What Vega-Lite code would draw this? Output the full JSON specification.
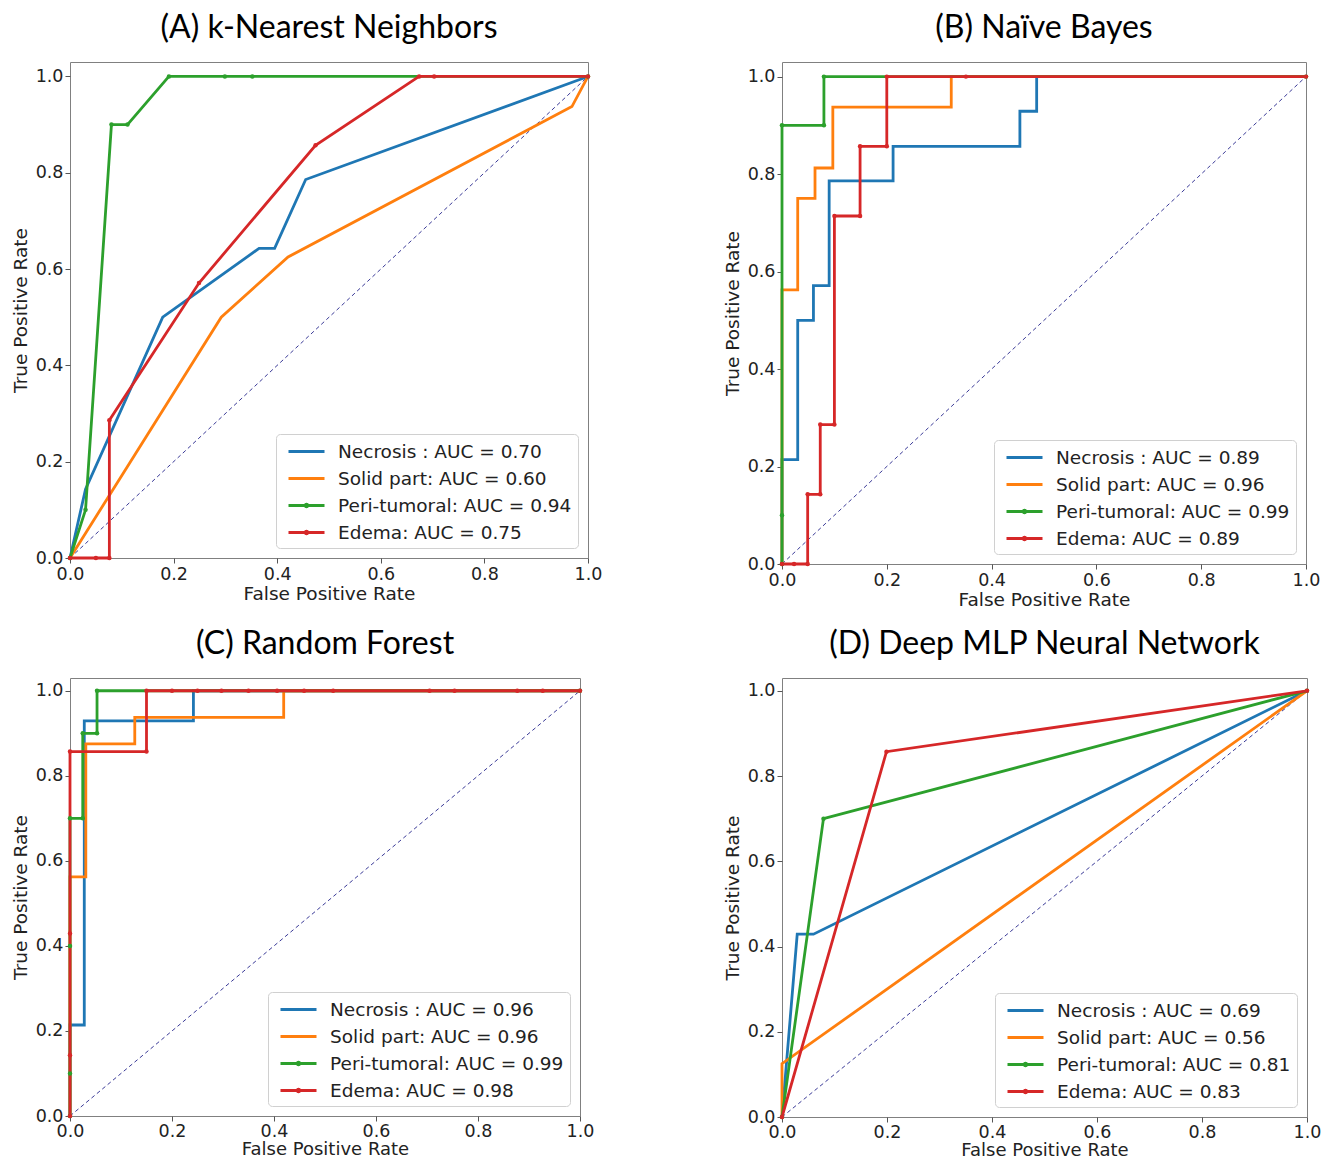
{
  "$schema": "https://vega.github.io/schema/vega-lite/v6.json",
  "background": "white",
  "padding": {"top": 11, "left": 10, "right": 5, "bottom": 0},
  "config": {
    "view": {"stroke": "#808080", "strokeWidth": 1},
    "title": {"font": "Lato", "fontSize": 32, "fontWeight": "normal", "color": "#000000", "offset": 17},
    "axis": {
      "labelFont": "DejaVu Sans", "labelFontSize": 17.5, "labelColor": "#222222", "labelFlush": false,
      "titleFont": "DejaVu Sans", "titleFontSize": 18.5, "titleFontWeight": "normal", "titleColor": "#222222",
      "tickSize": 5, "tickColor": "#555555", "domain": false, "grid": false, "labelPadding": 2
    },
    "legend": {
      "orient": "bottom-right", "offset": 10, "strokeColor": "#d0d0d0", "fillColor": "white",
      "padding": 6, "cornerRadius": 4, "labelFont": "DejaVu Sans", "labelFontSize": 18.5, "labelColor": "#222222",
      "symbolType": "M-1.8,0H1.8", "symbolStrokeWidth": 3, "symbolSize": 400, "symbolOffset": 13, "labelOffset": 20, "rowPadding": 6, "labelLimit": 400
    }
  },
  "datasets": {
    "diag": [{"fpr": 0, "tpr": 0}, {"fpr": 1, "tpr": 1}],
    "A": [
      {"curve": "Necrosis : AUC = 0.70", "i": 1, "fpr": 0, "tpr": 0},
      {"curve": "Necrosis : AUC = 0.70", "i": 2, "fpr": 0.03, "tpr": 0.143},
      {"curve": "Necrosis : AUC = 0.70", "i": 3, "fpr": 0.179, "tpr": 0.5},
      {"curve": "Necrosis : AUC = 0.70", "i": 4, "fpr": 0.365, "tpr": 0.643},
      {"curve": "Necrosis : AUC = 0.70", "i": 5, "fpr": 0.395, "tpr": 0.643},
      {"curve": "Necrosis : AUC = 0.70", "i": 6, "fpr": 0.455, "tpr": 0.786},
      {"curve": "Necrosis : AUC = 0.70", "i": 7, "fpr": 1, "tpr": 1},
      {"curve": "Solid part: AUC = 0.60", "i": 1, "fpr": 0, "tpr": 0},
      {"curve": "Solid part: AUC = 0.60", "i": 2, "fpr": 0.292, "tpr": 0.5},
      {"curve": "Solid part: AUC = 0.60", "i": 3, "fpr": 0.421, "tpr": 0.625},
      {"curve": "Solid part: AUC = 0.60", "i": 4, "fpr": 0.969, "tpr": 0.9375},
      {"curve": "Solid part: AUC = 0.60", "i": 5, "fpr": 1, "tpr": 1},
      {"curve": "Peri-tumoral: AUC = 0.94", "i": 1, "fpr": 0, "tpr": 0},
      {"curve": "Peri-tumoral: AUC = 0.94", "i": 2, "fpr": 0.03, "tpr": 0.1},
      {"curve": "Peri-tumoral: AUC = 0.94", "i": 3, "fpr": 0.08, "tpr": 0.9},
      {"curve": "Peri-tumoral: AUC = 0.94", "i": 4, "fpr": 0.111, "tpr": 0.9},
      {"curve": "Peri-tumoral: AUC = 0.94", "i": 5, "fpr": 0.191, "tpr": 1},
      {"curve": "Peri-tumoral: AUC = 0.94", "i": 6, "fpr": 0.299, "tpr": 1},
      {"curve": "Peri-tumoral: AUC = 0.94", "i": 7, "fpr": 0.352, "tpr": 1},
      {"curve": "Peri-tumoral: AUC = 0.94", "i": 8, "fpr": 1, "tpr": 1},
      {"curve": "Edema: AUC = 0.75", "i": 1, "fpr": 0, "tpr": 0},
      {"curve": "Edema: AUC = 0.75", "i": 2, "fpr": 0.05, "tpr": 0},
      {"curve": "Edema: AUC = 0.75", "i": 3, "fpr": 0.076, "tpr": 0},
      {"curve": "Edema: AUC = 0.75", "i": 4, "fpr": 0.076, "tpr": 0.286},
      {"curve": "Edema: AUC = 0.75", "i": 5, "fpr": 0.249, "tpr": 0.571},
      {"curve": "Edema: AUC = 0.75", "i": 6, "fpr": 0.474, "tpr": 0.857},
      {"curve": "Edema: AUC = 0.75", "i": 7, "fpr": 0.674, "tpr": 1},
      {"curve": "Edema: AUC = 0.75", "i": 8, "fpr": 0.703, "tpr": 1},
      {"curve": "Edema: AUC = 0.75", "i": 9, "fpr": 1, "tpr": 1}
    ],
    "B": [
      {"curve": "Necrosis : AUC = 0.89", "i": 1, "fpr": 0, "tpr": 0},
      {"curve": "Necrosis : AUC = 0.89", "i": 2, "fpr": 0, "tpr": 0.214},
      {"curve": "Necrosis : AUC = 0.89", "i": 3, "fpr": 0.03, "tpr": 0.214},
      {"curve": "Necrosis : AUC = 0.89", "i": 4, "fpr": 0.03, "tpr": 0.5},
      {"curve": "Necrosis : AUC = 0.89", "i": 5, "fpr": 0.06, "tpr": 0.5},
      {"curve": "Necrosis : AUC = 0.89", "i": 6, "fpr": 0.06, "tpr": 0.571},
      {"curve": "Necrosis : AUC = 0.89", "i": 7, "fpr": 0.09, "tpr": 0.571},
      {"curve": "Necrosis : AUC = 0.89", "i": 8, "fpr": 0.09, "tpr": 0.786},
      {"curve": "Necrosis : AUC = 0.89", "i": 9, "fpr": 0.212, "tpr": 0.786},
      {"curve": "Necrosis : AUC = 0.89", "i": 10, "fpr": 0.212, "tpr": 0.857},
      {"curve": "Necrosis : AUC = 0.89", "i": 11, "fpr": 0.454, "tpr": 0.857},
      {"curve": "Necrosis : AUC = 0.89", "i": 12, "fpr": 0.454, "tpr": 0.929},
      {"curve": "Necrosis : AUC = 0.89", "i": 13, "fpr": 0.486, "tpr": 0.929},
      {"curve": "Necrosis : AUC = 0.89", "i": 14, "fpr": 0.486, "tpr": 1},
      {"curve": "Necrosis : AUC = 0.89", "i": 15, "fpr": 1, "tpr": 1},
      {"curve": "Solid part: AUC = 0.96", "i": 1, "fpr": 0, "tpr": 0},
      {"curve": "Solid part: AUC = 0.96", "i": 2, "fpr": 0, "tpr": 0.5625},
      {"curve": "Solid part: AUC = 0.96", "i": 3, "fpr": 0.03, "tpr": 0.5625},
      {"curve": "Solid part: AUC = 0.96", "i": 4, "fpr": 0.03, "tpr": 0.75},
      {"curve": "Solid part: AUC = 0.96", "i": 5, "fpr": 0.063, "tpr": 0.75},
      {"curve": "Solid part: AUC = 0.96", "i": 6, "fpr": 0.063, "tpr": 0.8125},
      {"curve": "Solid part: AUC = 0.96", "i": 7, "fpr": 0.097, "tpr": 0.8125},
      {"curve": "Solid part: AUC = 0.96", "i": 8, "fpr": 0.097, "tpr": 0.9375},
      {"curve": "Solid part: AUC = 0.96", "i": 9, "fpr": 0.323, "tpr": 0.9375},
      {"curve": "Solid part: AUC = 0.96", "i": 10, "fpr": 0.323, "tpr": 1},
      {"curve": "Solid part: AUC = 0.96", "i": 11, "fpr": 1, "tpr": 1},
      {"curve": "Peri-tumoral: AUC = 0.99", "i": 1, "fpr": 0, "tpr": 0},
      {"curve": "Peri-tumoral: AUC = 0.99", "i": 2, "fpr": 0, "tpr": 0.1},
      {"curve": "Peri-tumoral: AUC = 0.99", "i": 3, "fpr": 0, "tpr": 0.9},
      {"curve": "Peri-tumoral: AUC = 0.99", "i": 4, "fpr": 0.08, "tpr": 0.9},
      {"curve": "Peri-tumoral: AUC = 0.99", "i": 5, "fpr": 0.08, "tpr": 1},
      {"curve": "Peri-tumoral: AUC = 0.99", "i": 6, "fpr": 1, "tpr": 1},
      {"curve": "Edema: AUC = 0.89", "i": 1, "fpr": 0, "tpr": 0},
      {"curve": "Edema: AUC = 0.89", "i": 2, "fpr": 0.023, "tpr": 0},
      {"curve": "Edema: AUC = 0.89", "i": 3, "fpr": 0.049, "tpr": 0},
      {"curve": "Edema: AUC = 0.89", "i": 4, "fpr": 0.049, "tpr": 0.143},
      {"curve": "Edema: AUC = 0.89", "i": 5, "fpr": 0.073, "tpr": 0.143},
      {"curve": "Edema: AUC = 0.89", "i": 6, "fpr": 0.073, "tpr": 0.286},
      {"curve": "Edema: AUC = 0.89", "i": 7, "fpr": 0.1, "tpr": 0.286},
      {"curve": "Edema: AUC = 0.89", "i": 8, "fpr": 0.1, "tpr": 0.714},
      {"curve": "Edema: AUC = 0.89", "i": 9, "fpr": 0.149, "tpr": 0.714},
      {"curve": "Edema: AUC = 0.89", "i": 10, "fpr": 0.149, "tpr": 0.857},
      {"curve": "Edema: AUC = 0.89", "i": 11, "fpr": 0.2, "tpr": 0.857},
      {"curve": "Edema: AUC = 0.89", "i": 12, "fpr": 0.2, "tpr": 1},
      {"curve": "Edema: AUC = 0.89", "i": 13, "fpr": 0.351, "tpr": 1},
      {"curve": "Edema: AUC = 0.89", "i": 14, "fpr": 1, "tpr": 1}
    ],
    "C": [
      {"curve": "Necrosis : AUC = 0.96", "i": 1, "fpr": 0, "tpr": 0},
      {"curve": "Necrosis : AUC = 0.96", "i": 2, "fpr": 0, "tpr": 0.214},
      {"curve": "Necrosis : AUC = 0.96", "i": 3, "fpr": 0.028, "tpr": 0.214},
      {"curve": "Necrosis : AUC = 0.96", "i": 4, "fpr": 0.028, "tpr": 0.929},
      {"curve": "Necrosis : AUC = 0.96", "i": 5, "fpr": 0.242, "tpr": 0.929},
      {"curve": "Necrosis : AUC = 0.96", "i": 6, "fpr": 0.242, "tpr": 1},
      {"curve": "Necrosis : AUC = 0.96", "i": 7, "fpr": 1, "tpr": 1},
      {"curve": "Solid part: AUC = 0.96", "i": 1, "fpr": 0, "tpr": 0},
      {"curve": "Solid part: AUC = 0.96", "i": 2, "fpr": 0, "tpr": 0.5625},
      {"curve": "Solid part: AUC = 0.96", "i": 3, "fpr": 0.031, "tpr": 0.5625},
      {"curve": "Solid part: AUC = 0.96", "i": 4, "fpr": 0.031, "tpr": 0.875},
      {"curve": "Solid part: AUC = 0.96", "i": 5, "fpr": 0.127, "tpr": 0.875},
      {"curve": "Solid part: AUC = 0.96", "i": 6, "fpr": 0.127, "tpr": 0.9375},
      {"curve": "Solid part: AUC = 0.96", "i": 7, "fpr": 0.419, "tpr": 0.9375},
      {"curve": "Solid part: AUC = 0.96", "i": 8, "fpr": 0.419, "tpr": 1},
      {"curve": "Solid part: AUC = 0.96", "i": 9, "fpr": 1, "tpr": 1},
      {"curve": "Peri-tumoral: AUC = 0.99", "i": 1, "fpr": 0, "tpr": 0},
      {"curve": "Peri-tumoral: AUC = 0.99", "i": 2, "fpr": 0, "tpr": 0.1},
      {"curve": "Peri-tumoral: AUC = 0.99", "i": 3, "fpr": 0, "tpr": 0.4},
      {"curve": "Peri-tumoral: AUC = 0.99", "i": 4, "fpr": 0, "tpr": 0.7},
      {"curve": "Peri-tumoral: AUC = 0.99", "i": 5, "fpr": 0.025, "tpr": 0.7},
      {"curve": "Peri-tumoral: AUC = 0.99", "i": 6, "fpr": 0.025, "tpr": 0.9},
      {"curve": "Peri-tumoral: AUC = 0.99", "i": 7, "fpr": 0.053, "tpr": 0.9},
      {"curve": "Peri-tumoral: AUC = 0.99", "i": 8, "fpr": 0.053, "tpr": 1},
      {"curve": "Peri-tumoral: AUC = 0.99", "i": 9, "fpr": 1, "tpr": 1},
      {"curve": "Edema: AUC = 0.98", "i": 1, "fpr": 0, "tpr": 0},
      {"curve": "Edema: AUC = 0.98", "i": 2, "fpr": 0, "tpr": 0.143},
      {"curve": "Edema: AUC = 0.98", "i": 3, "fpr": 0, "tpr": 0.429},
      {"curve": "Edema: AUC = 0.98", "i": 4, "fpr": 0, "tpr": 0.857},
      {"curve": "Edema: AUC = 0.98", "i": 5, "fpr": 0.15, "tpr": 0.857},
      {"curve": "Edema: AUC = 0.98", "i": 6, "fpr": 0.15, "tpr": 1},
      {"curve": "Edema: AUC = 0.98", "i": 7, "fpr": 0.2, "tpr": 1},
      {"curve": "Edema: AUC = 0.98", "i": 8, "fpr": 0.25, "tpr": 1},
      {"curve": "Edema: AUC = 0.98", "i": 9, "fpr": 0.297, "tpr": 1},
      {"curve": "Edema: AUC = 0.98", "i": 10, "fpr": 0.35, "tpr": 1},
      {"curve": "Edema: AUC = 0.98", "i": 11, "fpr": 0.406, "tpr": 1},
      {"curve": "Edema: AUC = 0.98", "i": 12, "fpr": 0.459, "tpr": 1},
      {"curve": "Edema: AUC = 0.98", "i": 13, "fpr": 0.516, "tpr": 1},
      {"curve": "Edema: AUC = 0.98", "i": 14, "fpr": 0.705, "tpr": 1},
      {"curve": "Edema: AUC = 0.98", "i": 15, "fpr": 0.754, "tpr": 1},
      {"curve": "Edema: AUC = 0.98", "i": 16, "fpr": 0.877, "tpr": 1},
      {"curve": "Edema: AUC = 0.98", "i": 17, "fpr": 0.927, "tpr": 1},
      {"curve": "Edema: AUC = 0.98", "i": 18, "fpr": 1, "tpr": 1}
    ],
    "D": [
      {"curve": "Necrosis : AUC = 0.69", "i": 1, "fpr": 0, "tpr": 0},
      {"curve": "Necrosis : AUC = 0.69", "i": 2, "fpr": 0.029, "tpr": 0.429},
      {"curve": "Necrosis : AUC = 0.69", "i": 3, "fpr": 0.06, "tpr": 0.429},
      {"curve": "Necrosis : AUC = 0.69", "i": 4, "fpr": 1, "tpr": 1},
      {"curve": "Solid part: AUC = 0.56", "i": 1, "fpr": 0, "tpr": 0},
      {"curve": "Solid part: AUC = 0.56", "i": 2, "fpr": 0, "tpr": 0.125},
      {"curve": "Solid part: AUC = 0.56", "i": 3, "fpr": 1, "tpr": 1},
      {"curve": "Peri-tumoral: AUC = 0.81", "i": 1, "fpr": 0, "tpr": 0},
      {"curve": "Peri-tumoral: AUC = 0.81", "i": 2, "fpr": 0.079, "tpr": 0.7},
      {"curve": "Peri-tumoral: AUC = 0.81", "i": 3, "fpr": 1, "tpr": 1},
      {"curve": "Edema: AUC = 0.83", "i": 1, "fpr": 0, "tpr": 0},
      {"curve": "Edema: AUC = 0.83", "i": 2, "fpr": 0.199, "tpr": 0.857},
      {"curve": "Edema: AUC = 0.83", "i": 3, "fpr": 1, "tpr": 1}
    ]
  },
  "resolve": {"scale": {"color": "independent", "x": "independent", "y": "independent"}, "legend": {"color": "independent"}},
  "spacing": 17,
  "vconcat": [
    {
      "spacing": 119,
      "resolve": {"scale": {"color": "independent", "x": "independent", "y": "independent"}, "legend": {"color": "independent"}},
      "hconcat": [
        {
          "width": 518, "height": 496,
          "title": "(A) k-Nearest Neighbors",
          "encoding": {
            "x": {"field": "fpr", "type": "quantitative", "scale": {"domain": [0, 1], "nice": false}, "axis": {"title": "False Positive Rate", "values": [0, 0.2, 0.4, 0.6, 0.8, 1], "format": ".1f", "titlePadding": 2}},
            "y": {"field": "tpr", "type": "quantitative", "scale": {"domain": [0, 1.03], "nice": false}, "axis": {"title": "True Positive Rate", "values": [0, 0.2, 0.4, 0.6, 0.8, 1], "format": ".1f", "titlePadding": 5}}
          },
          "layer": [
            {"data": {"name": "diag"}, "mark": {"type": "line", "color": "#3b3b98", "strokeWidth": 1, "strokeDash": [4, 3]}, "encoding": {}},
            {"data": {"name": "A"}, "mark": {"type": "line", "strokeWidth": 2.8},
             "encoding": {"color": {"field": "curve", "type": "nominal", "scale": {"domain": ["Necrosis : AUC = 0.70", "Solid part: AUC = 0.60", "Peri-tumoral: AUC = 0.94", "Edema: AUC = 0.75"], "range": ["#1f77b4", "#ff7f0e", "#2ca02c", "#d62728"]},
               "legend": {"title": null, "encode": {"symbols": {"update": {"shape": {"signal": "(indexof(datum.value, 'Peri') >= 0 || indexof(datum.value, 'Edema') >= 0) ? 'M-1.8,0H1.8M0.12,0A0.12,0.12 0 1,1 -0.12,0A0.12,0.12 0 1,1 0.12,0' : 'M-1.8,0H1.8'"}}}}}}, "order": {"field": "i", "type": "quantitative"}}},
            {"data": {"name": "A"}, "transform": [{"filter": "test(/^(Peri|Edema)/, datum.curve)"}], "mark": {"type": "point", "filled": true, "size": 20, "opacity": 1},
             "encoding": {"color": {"field": "curve", "type": "nominal", "legend": null}}}
          ]
        },
        {
          "width": 524, "height": 502,
          "title": "(B) Naïve Bayes",
          "encoding": {
            "x": {"field": "fpr", "type": "quantitative", "scale": {"domain": [0, 1], "nice": false}, "axis": {"title": "False Positive Rate", "values": [0, 0.2, 0.4, 0.6, 0.8, 1], "format": ".1f", "titlePadding": 2}},
            "y": {"field": "tpr", "type": "quantitative", "scale": {"domain": [0, 1.03], "nice": false}, "axis": {"title": "True Positive Rate", "values": [0, 0.2, 0.4, 0.6, 0.8, 1], "format": ".1f", "titlePadding": 5}}
          },
          "layer": [
            {"data": {"name": "diag"}, "mark": {"type": "line", "color": "#3b3b98", "strokeWidth": 1, "strokeDash": [4, 3]}, "encoding": {}},
            {"data": {"name": "B"}, "mark": {"type": "line", "strokeWidth": 2.8},
             "encoding": {"color": {"field": "curve", "type": "nominal", "scale": {"domain": ["Necrosis : AUC = 0.89", "Solid part: AUC = 0.96", "Peri-tumoral: AUC = 0.99", "Edema: AUC = 0.89"], "range": ["#1f77b4", "#ff7f0e", "#2ca02c", "#d62728"]},
               "legend": {"title": null, "encode": {"symbols": {"update": {"shape": {"signal": "(indexof(datum.value, 'Peri') >= 0 || indexof(datum.value, 'Edema') >= 0) ? 'M-1.8,0H1.8M0.12,0A0.12,0.12 0 1,1 -0.12,0A0.12,0.12 0 1,1 0.12,0' : 'M-1.8,0H1.8'"}}}}}}, "order": {"field": "i", "type": "quantitative"}}},
            {"data": {"name": "B"}, "transform": [{"filter": "test(/^(Peri|Edema)/, datum.curve)"}], "mark": {"type": "point", "filled": true, "size": 20, "opacity": 1},
             "encoding": {"color": {"field": "curve", "type": "nominal", "legend": null}}}
          ]
        }
      ]
    },
    {
      "spacing": 127,
      "resolve": {"scale": {"color": "independent", "x": "independent", "y": "independent"}, "legend": {"color": "independent"}},
      "hconcat": [
        {
          "width": 510, "height": 438,
          "title": "(C) Random Forest",
          "encoding": {
            "x": {"field": "fpr", "type": "quantitative", "scale": {"domain": [0, 1], "nice": false}, "axis": {"title": "False Positive Rate", "values": [0, 0.2, 0.4, 0.6, 0.8, 1], "format": ".1f", "titlePadding": 1, "labelPadding": 1, "titleFontSize": 18}},
            "y": {"field": "tpr", "type": "quantitative", "scale": {"domain": [0, 1.03], "nice": false}, "axis": {"title": "True Positive Rate", "values": [0, 0.2, 0.4, 0.6, 0.8, 1], "format": ".1f", "titlePadding": 5}}
          },
          "layer": [
            {"data": {"name": "diag"}, "mark": {"type": "line", "color": "#3b3b98", "strokeWidth": 1, "strokeDash": [4, 3]}, "encoding": {}},
            {"data": {"name": "C"}, "mark": {"type": "line", "strokeWidth": 2.8},
             "encoding": {"color": {"field": "curve", "type": "nominal", "scale": {"domain": ["Necrosis : AUC = 0.96", "Solid part: AUC = 0.96", "Peri-tumoral: AUC = 0.99", "Edema: AUC = 0.98"], "range": ["#1f77b4", "#ff7f0e", "#2ca02c", "#d62728"]},
               "legend": {"title": null, "encode": {"symbols": {"update": {"shape": {"signal": "(indexof(datum.value, 'Peri') >= 0 || indexof(datum.value, 'Edema') >= 0) ? 'M-1.8,0H1.8M0.12,0A0.12,0.12 0 1,1 -0.12,0A0.12,0.12 0 1,1 0.12,0' : 'M-1.8,0H1.8'"}}}}}}, "order": {"field": "i", "type": "quantitative"}}},
            {"data": {"name": "C"}, "transform": [{"filter": "test(/^(Peri|Edema)/, datum.curve)"}], "mark": {"type": "point", "filled": true, "size": 20, "opacity": 1},
             "encoding": {"color": {"field": "curve", "type": "nominal", "legend": null}}}
          ]
        },
        {
          "width": 525, "height": 439,
          "title": "(D) Deep MLP Neural Network",
          "encoding": {
            "x": {"field": "fpr", "type": "quantitative", "scale": {"domain": [0, 1], "nice": false}, "axis": {"title": "False Positive Rate", "values": [0, 0.2, 0.4, 0.6, 0.8, 1], "format": ".1f", "titlePadding": 1, "labelPadding": 1, "titleFontSize": 18}},
            "y": {"field": "tpr", "type": "quantitative", "scale": {"domain": [0, 1.03], "nice": false}, "axis": {"title": "True Positive Rate", "values": [0, 0.2, 0.4, 0.6, 0.8, 1], "format": ".1f", "titlePadding": 5}}
          },
          "layer": [
            {"data": {"name": "diag"}, "mark": {"type": "line", "color": "#3b3b98", "strokeWidth": 1, "strokeDash": [4, 3]}, "encoding": {}},
            {"data": {"name": "D"}, "mark": {"type": "line", "strokeWidth": 2.8},
             "encoding": {"color": {"field": "curve", "type": "nominal", "scale": {"domain": ["Necrosis : AUC = 0.69", "Solid part: AUC = 0.56", "Peri-tumoral: AUC = 0.81", "Edema: AUC = 0.83"], "range": ["#1f77b4", "#ff7f0e", "#2ca02c", "#d62728"]},
               "legend": {"title": null, "encode": {"symbols": {"update": {"shape": {"signal": "(indexof(datum.value, 'Peri') >= 0 || indexof(datum.value, 'Edema') >= 0) ? 'M-1.8,0H1.8M0.12,0A0.12,0.12 0 1,1 -0.12,0A0.12,0.12 0 1,1 0.12,0' : 'M-1.8,0H1.8'"}}}}}}, "order": {"field": "i", "type": "quantitative"}}},
            {"data": {"name": "D"}, "transform": [{"filter": "test(/^(Peri|Edema)/, datum.curve)"}], "mark": {"type": "point", "filled": true, "size": 20, "opacity": 1},
             "encoding": {"color": {"field": "curve", "type": "nominal", "legend": null}}}
          ]
        }
      ]
    }
  ]
}
